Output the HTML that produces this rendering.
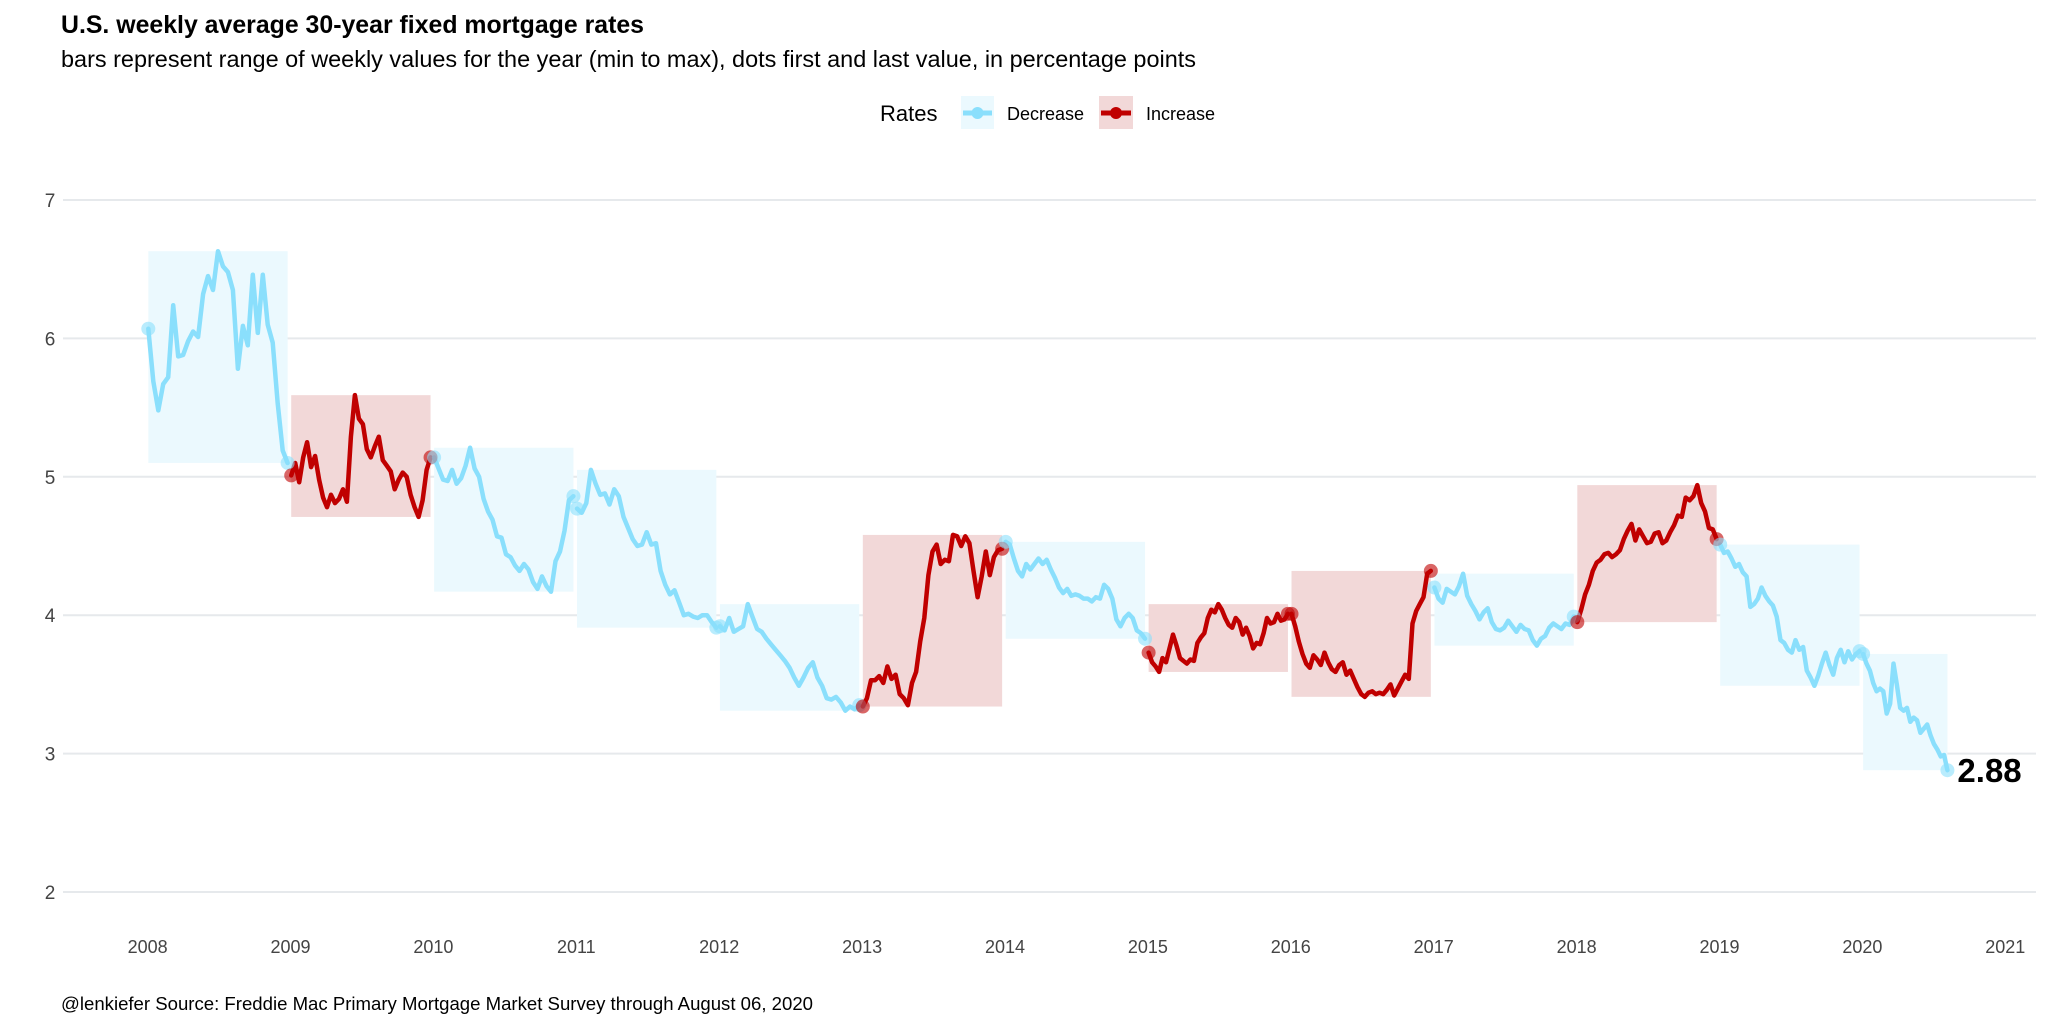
<!DOCTYPE html>
<html><head><meta charset="utf-8">
<style>
html,body{margin:0;padding:0;background:#fff;}
svg{display:block;font-family:"Liberation Sans",Arial,sans-serif;}
</style></head>
<body>
<svg id="chart" width="2048" height="1024" viewBox="0 0 2048 1024">
<text x="61" y="33" font-size="25" font-weight="bold" fill="#000" textLength="583" lengthAdjust="spacingAndGlyphs">U.S. weekly average 30-year fixed mortgage rates</text>
<text x="61" y="67" font-size="23" fill="#000" textLength="1135" lengthAdjust="spacingAndGlyphs">bars represent range of weekly values for the year (min to max), dots first and last value, in percentage points</text>
<g>
<text x="880" y="121" font-size="22" fill="#000">Rates</text>
<g>
<rect x="961" y="96" width="33" height="33" fill="#ebf9fe"/>
<line x1="963" y1="113" x2="992" y2="113" stroke="#8adffc" stroke-width="5"/>
<circle cx="977.5" cy="113" r="6" fill="#8adffc"/>
<text x="1007" y="120" font-size="18" fill="#000">Decrease</text>
</g>
<g>
<rect x="1099" y="96" width="34" height="33" fill="#f2d8d8"/>
<line x1="1101" y1="113" x2="1131" y2="113" stroke="#c00000" stroke-width="5"/>
<circle cx="1116" cy="113" r="6" fill="#c00000"/>
<text x="1146" y="120" font-size="18" fill="#000">Increase</text>
</g>
</g>
<g id="grid"></g>
<g id="bars"></g>
<g id="lines"></g>
<g id="dots"></g>
<g id="axes"></g>
<text x="61" y="1010" font-size="18.5" fill="#000" textLength="752" lengthAdjust="spacingAndGlyphs">@lenkiefer Source: Freddie Mac Primary Mortgage Market Survey through August 06, 2020</text>
</svg>
<script>
const years = [2008,2009,2010,2011,2012,2013,2014,2015,2016,2017,2018,2019,2020];
const yearKind = ["Decrease","Increase","Decrease","Decrease","Decrease","Increase","Decrease","Increase","Increase","Decrease","Increase","Decrease","Decrease"];
const r2008 = [6.07,5.69,5.48,5.67,5.72,6.24,5.87,5.88,5.98,6.05,6.01,6.32,6.45,6.35,6.63,6.52,6.48,6.35,5.78,6.09,5.95,6.46,6.04,6.46,6.10,5.97,5.53,5.19,5.10];
const r2009 = [5.01,5.10,4.96,5.14,5.25,5.07,5.15,4.98,4.85,4.78,4.87,4.81,4.84,4.91,4.82,5.29,5.59,5.42,5.38,5.20,5.14,5.22,5.29,5.12,5.08,5.04,4.91,4.98,5.03,5.00,4.87,4.78,4.71,4.83,5.05,5.14];
const r2010 = [5.14,5.06,4.98,4.97,5.05,4.95,4.99,5.08,5.21,5.06,5.00,4.84,4.75,4.69,4.57,4.56,4.44,4.42,4.36,4.32,4.37,4.33,4.24,4.19,4.28,4.21,4.17,4.39,4.46,4.61,4.83,4.86];
const r2011 = [4.77,4.74,4.81,5.05,4.95,4.87,4.88,4.80,4.91,4.86,4.71,4.63,4.55,4.50,4.51,4.60,4.51,4.52,4.32,4.22,4.15,4.18,4.09,4.00,4.01,3.99,3.98,4.00,4.00,3.95,3.91];
const r2012 = [3.92,3.89,3.98,3.88,3.90,3.92,4.08,3.99,3.90,3.88,3.83,3.79,3.75,3.71,3.67,3.62,3.55,3.49,3.55,3.62,3.66,3.55,3.49,3.40,3.39,3.41,3.37,3.31,3.34,3.32,3.35];
const r2013 = [3.34,3.40,3.53,3.53,3.56,3.51,3.63,3.54,3.57,3.43,3.40,3.35,3.51,3.59,3.81,3.98,4.29,4.46,4.51,4.37,4.40,4.39,4.58,4.57,4.50,4.57,4.52,4.32,4.13,4.28,4.46,4.29,4.42,4.47,4.48];
const r2014 = [4.53,4.51,4.41,4.32,4.28,4.37,4.33,4.37,4.41,4.37,4.40,4.33,4.27,4.20,4.16,4.19,4.14,4.15,4.14,4.12,4.12,4.10,4.13,4.12,4.22,4.19,4.12,3.97,3.92,3.98,4.01,3.98,3.89,3.87,3.83];
const r2015 = [3.73,3.66,3.63,3.59,3.69,3.66,3.76,3.86,3.78,3.69,3.67,3.65,3.68,3.67,3.80,3.84,3.87,3.98,4.04,4.02,4.08,4.04,3.98,3.93,3.91,3.98,3.95,3.86,3.91,3.85,3.76,3.80,3.79,3.87,3.98,3.94,3.95,4.01,3.96,3.97,4.01];
const r2016 = [4.01,3.92,3.81,3.72,3.65,3.62,3.71,3.68,3.64,3.73,3.66,3.61,3.59,3.64,3.66,3.57,3.60,3.54,3.48,3.43,3.41,3.44,3.45,3.43,3.44,3.43,3.46,3.50,3.42,3.47,3.52,3.57,3.54,3.94,4.03,4.08,4.13,4.30,4.32];
const r2017 = [4.20,4.12,4.09,4.19,4.17,4.15,4.21,4.30,4.14,4.08,4.03,3.97,4.02,4.05,3.95,3.90,3.89,3.91,3.96,3.92,3.88,3.93,3.90,3.89,3.82,3.78,3.83,3.85,3.91,3.94,3.92,3.90,3.94,3.93,3.99];
const r2018 = [3.95,4.04,4.15,4.22,4.32,4.38,4.40,4.44,4.45,4.42,4.44,4.47,4.55,4.61,4.66,4.54,4.62,4.57,4.52,4.53,4.59,4.60,4.52,4.54,4.60,4.65,4.72,4.71,4.85,4.83,4.86,4.94,4.81,4.75,4.63,4.62,4.55];
const r2019 = [4.51,4.45,4.46,4.41,4.35,4.37,4.31,4.28,4.06,4.08,4.12,4.20,4.14,4.10,4.07,3.99,3.82,3.80,3.75,3.73,3.82,3.75,3.77,3.60,3.55,3.49,3.56,3.65,3.73,3.64,3.57,3.69,3.75,3.66,3.74,3.68,3.72,3.74];
const r2020 = [3.72,3.65,3.60,3.51,3.45,3.47,3.45,3.29,3.36,3.65,3.50,3.33,3.31,3.33,3.23,3.26,3.24,3.15,3.18,3.21,3.13,3.07,3.03,2.98,2.99,2.88];
const yearEnds = [0.98,0.98,0.98,0.98,0.98,0.98,0.98,0.98,0.98,0.98,0.98,0.98,0.595];
const rates = [r2008,r2009,r2010,r2011,r2012,r2013,r2014,r2015,r2016,r2017,r2018,r2019,r2020];
const yTicks = [2,3,4,5,6,7];
const xTicks = [2008,2009,2010,2011,2012,2013,2014,2015,2016,2017,2018,2019,2020,2021];
const lastLabel = "2.88";

const NS = "http://www.w3.org/2000/svg";
const xScale = t => 147.6 + (t - 2008) * 142.9;
const yScale = v => 892 - (v - 2) * 138.4;
const colLine = {Decrease:"#8adffc", Increase:"#c00000"};
const colBar = {Decrease:"#ebf9fe", Increase:"#f2d8d8"};
function mk(tag, attrs, parent){const e=document.createElementNS(NS,tag);for(const k in attrs)e.setAttribute(k,attrs[k]);parent.appendChild(e);return e;}
const gGrid=document.getElementById('grid'), gBars=document.getElementById('bars'), gLines=document.getElementById('lines'), gDots=document.getElementById('dots'), gAxes=document.getElementById('axes');

yTicks.forEach(v=>{
  const l=mk('line',{x1:63,x2:2036,y1:yScale(v),y2:yScale(v),stroke:'#e6e9ec','stroke-width':2},gGrid);
  
  
  const t=mk('text',{x:50,y:yScale(v)+7,'font-size':19,fill:'#444','text-anchor':'middle'},gAxes);
  t.textContent=v;
  
  
});
xTicks.forEach(yr=>{
  const t=mk('text',{x:xScale(yr),y:953,'font-size':18,fill:'#444','text-anchor':'middle'},gAxes);
  t.textContent=yr;
  
  
});

years.forEach((yr,i)=>{
  const vals=rates[i], kind=yearKind[i], n=vals.length;
  const x0=xScale(yr+0.005), x1=xScale(yr+yearEnds[i]);
  const xs=vals.map((v,j)=>x0+(x1-x0)*j/(n-1));
  const mn=Math.min(...vals), mx=Math.max(...vals);
  const b=mk('rect',{x:x0,y:yScale(mx),width:x1-x0,height:yScale(mn)-yScale(mx),fill:colBar[kind]},gBars);
  
  
  const p=mk('polyline',{points:vals.map((v,j)=>xs[j].toFixed(1)+','+yScale(v).toFixed(1)).join(' '),fill:'none',stroke:colLine[kind],'stroke-width':4.5,'stroke-linejoin':'round','stroke-linecap':'round'},gLines);
  
  
  [[0,'first'],[n-1,'last']].forEach(([j,w])=>{
    const c=mk('circle',{cx:xs[j],cy:yScale(vals[j]),r:7,fill:colLine[kind],'fill-opacity':0.6},gDots);
    
    
  });
  if(i===years.length-1){
    const t=mk('text',{x:xs[n-1]+10,y:yScale(vals[n-1])+12,'font-size':33,'font-weight':'bold',fill:'#000'},gAxes);
    t.textContent=lastLabel;
    
    
  }
});
</script>
</body></html>
